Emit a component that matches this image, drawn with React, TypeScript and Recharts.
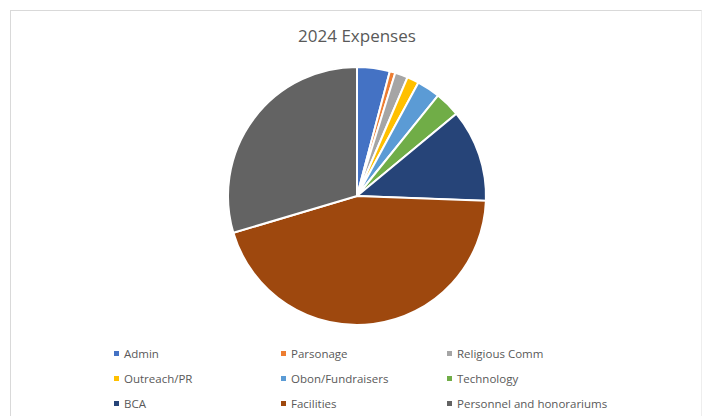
import React from "react";
import { PieChart, Pie, Cell } from "recharts";

const categories = [
  "Admin",
  "Parsonage",
  "Religious Comm",
  "Outreach/PR",
  "Obon/Fundraisers",
  "Technology",
  "BCA",
  "Facilities",
  "Personnel and honorariums",
];
// approximate share of total expenses (%)
const shares = [4.1, 0.7, 1.6, 1.5, 2.9, 3.2, 11.6, 44.8, 29.6];
const colors = [
  "#4472C4",
  "#ED7D31",
  "#A5A5A5",
  "#FFC000",
  "#5B9BD5",
  "#70AD47",
  "#264478",
  "#9E480E",
  "#636363",
];

const data = categories.map((name, i) => ({ name, value: shares[i] }));

const FONT = "'Open Sans', 'Liberation Sans', sans-serif";
const legendCols = [114, 281, 447];
const legendRows = [353, 378, 403];

export default function App() {
  return (
    <div
      style={{
        position: "absolute",
        left: 0,
        top: 0,
        width: 703,
        height: 416,
        background: "#fff",
        overflow: "hidden",
        fontFamily: FONT,
      }}
    >
      <div
        style={{
          position: "absolute",
          left: 10,
          top: 10,
          width: 690,
          height: 420,
          borderTop: "1px solid #d9d9d9",
          borderLeft: "1px solid #d9d9d9",
          borderRight: "1px solid #eeeeee",
        }}
      />
      <div
        style={{
          position: "absolute",
          left: 0,
          width: 714,
          top: 24,
          textAlign: "center",
          fontSize: 17,
          color: "#595959",
        }}
      >
        2024 Expenses
      </div>
      <div style={{ position: "absolute", left: 0, top: 0 }}>
        <PieChart width={703} height={416} margin={{ top: 0, right: 0, bottom: 0, left: 0 }}>
          <Pie
            data={data}
            dataKey="value"
            nameKey="name"
            cx={357}
            cy={196}
            outerRadius={129}
            startAngle={90}
            endAngle={-270}
            stroke="#ffffff"
            strokeWidth={2}
            isAnimationActive={false}
          >
            {data.map((d, i) => (
              <Cell key={d.name} fill={colors[i]} />
            ))}
          </Pie>
        </PieChart>
      </div>
      {categories.map((name, i) => {
        const x = legendCols[i % 3];
        const y = legendRows[Math.floor(i / 3)];
        return (
          <div
            key={name}
            style={{
              position: "absolute",
              left: x,
              top: y - 9,
              height: 18,
              display: "flex",
              alignItems: "center",
              fontSize: 11.5,
              color: "#595959",
              whiteSpace: "nowrap",
            }}
          >
            <span
              style={{
                display: "inline-block",
                width: 5,
                height: 5,
                background: colors[i],
                marginRight: 5,
              }}
            />
            {name}
          </div>
        );
      })}
    </div>
  );
}
